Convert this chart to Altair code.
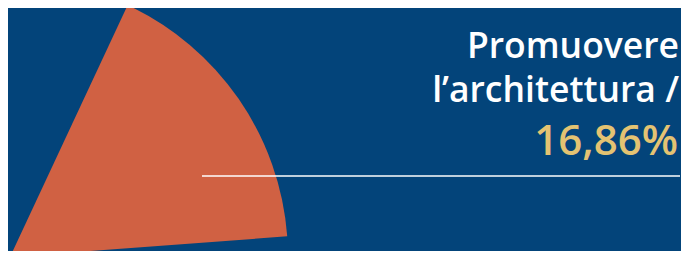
import altair as alt
import pandas as pd

# data
categories = ["Promuovere l’architettura"]
shares = [16.86]
title_lines = ["Promuovere", "l’architettura /"]
value_label = "16,86%"

BG = "#03447a"
ORANGE = "#d06143"
GOLD = "#e4c372"

START = 0.437  # radians, clockwise from 12 o'clock
TWO_PI = 6.283185307

df = pd.DataFrame({"cat": categories, "share": shares})

arc = alt.Chart(df).mark_arc(radius=278, stroke=None).encode(
    theta=alt.Theta("share:Q", scale=alt.Scale(domain=[0, 100], range=[START, START + TWO_PI])),
    color=alt.value(ORANGE),
    x=alt.value(2),
    y=alt.value(249),
)

rule = alt.Chart(df).mark_rule(color="white", strokeWidth=1.5).encode(
    x=alt.value(194), x2=alt.value(672), y=alt.value(168)
)

lines_df = pd.DataFrame({"t": title_lines, "yy": [49.5, 93.5]})
title = alt.Chart(lines_df).mark_text(
    align="right", baseline="alphabetic", font="Open Sans", fontSize=35.5, color="white", fontWeight=600
).encode(text="t:N", x=alt.value(671), y=alt.Y("yy:Q", scale=None))

val_df = pd.DataFrame({"t": [value_label]})
val = alt.Chart(val_df).mark_text(
    align="right", baseline="alphabetic", font="Open Sans", fontSize=42, color=GOLD, fontWeight=600
).encode(text="t:N", x=alt.value(670), y=alt.value(147))

chart = alt.layer(arc, rule, title, val).properties(
    width=673, height=243, background=BG, padding=0,
    autosize=alt.AutoSizeParams(type="none"),
).configure_view(stroke=None)

chart.save("out.html", embed_options={"renderer": "svg", "actions": False})
